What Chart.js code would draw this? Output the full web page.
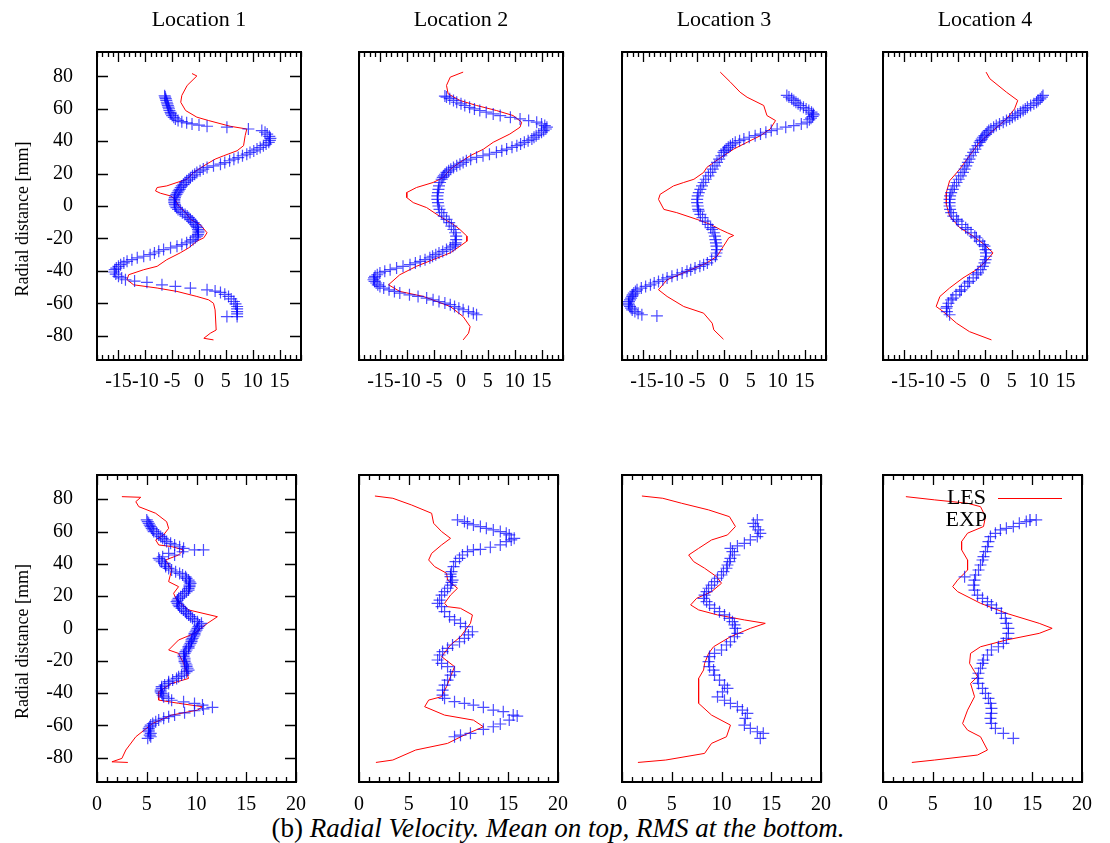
<!DOCTYPE html>
<html>
<head>
<meta charset="utf-8">
<script src="https://cdn.jsdelivr.net/npm/chart.js@4.4.1/dist/chart.umd.min.js"></script>
<style>
  body { margin: 0; background: #fff; width: 1110px; height: 843px; position: relative; overflow: hidden; }
  canvas { position: absolute; }
  #caption { position: absolute; left: 3px; width: 1110px; top: 813px; text-align: center; line-height: 30px;
             font: 27px "Liberation Serif", "Times New Roman", serif; color: #000; }
</style>
</head>
<body>
<div id="caption">(b) <i>Radial Velocity. Mean on top, RMS at the bottom.</i></div>
<script>
// --- data (r = radial distance [mm], v = velocity) ---
const locations = ['Location 1', 'Location 2', 'Location 3', 'Location 4'];
const radiusTicks = [-80, -60, -40, -20, 0, 20, 40, 60, 80];
const meanTicks = [-15, -10, -5, 0, 5, 10, 15];
const rmsTicks = [0, 5, 10, 15, 20];

// mean, location 1
const lesMean1R = [81.7, 80.2, 74.4, 68.2, 64.0, 58.9, 54.8, 52.7, 49.2, 47.5, 43.4, 37.2, 34.1, 31.0, 28.9, 24.8, 20.7, 16.5, 14.5, 12.4, 11.4, 9.3, 7.9, 6.2, 4.1, 0, -4.1, -8.3, -11.4, -16.5, -19.6, -21.7, -25.8, -28.9, -33.1, -37.2, -39.3, -42.4, -45.5, -48.6, -50.6, -52.7, -55.8, -57.9, -60.0, -64.1, -76.5, -78.5, -81.6, -82.6];
const lesMean1V = [-1.3, -0.4, -2.2, -3.2, -3.4, -2.5, -0.4, 1.8, 5.8, 8.9, 8.6, 8.3, 7.1, 4.6, 3.0, 0.9, -1.0, -2.2, -4.1, -6.0, -7.8, -8.1, -7.2, -5.3, -4.4, -3.8, -2.5, -1.6, 0.2, 1.5, 0.9, -0.4, -1.9, -3.5, -6.0, -7.8, -10.3, -13.1, -13.4, -12.2, -7.8, -4.1, -0.4, 1.8, 2.7, 3.0, 3.2, 2.1, 0.9, 2.7];
const expMean1R = [68.0, 67.2, 66.2, 65.1, 64.0, 63.0, 62.0, 61.0, 60.0, 58.9, 57.8, 56.8, 55.8, 54.7, 53.7, 52.8, 52.0, 51.3, 50.6, 49.9, 49.2, 48.6, 47.5, 46.5, 45.5, 44.4, 43.0, 41.7, 40.5, 39.3, 38.2, 37.2, 36.1, 35.1, 34.0, 33.0, 32.0, 31.0, 29.9, 28.9, 27.9, 26.8, 25.8, 24.8, 23.8, 22.8, 21.7, 20.7, 19.6, 18.6, 17.5, 16.5, 15.5, 14.5, 13.4, 12.4, 11.4, 10.3, 9.3, 8.3, 7.2, 6.2, 5.2, 4.1, 3.1, 2.1, 1.0, 0, -1.0, -2.1, -3.1, -4.1, -5.2, -6.2, -7.2, -8.3, -9.3, -10.3, -11.4, -12.4, -13.4, -14.5, -15.5, -16.5, -17.6, -18.6, -19.6, -20.7, -21.7, -22.7, -23.8, -24.8, -25.8, -26.9, -27.9, -29.0, -30.0, -31.0, -32.0, -33.1, -34.1, -35.1, -36.2, -37.2, -38.3, -39.3, -40.7, -42.0, -43.4, -44.4, -45.5, -46.3, -47.1, -48.6, -49.6, -50.6, -51.7, -52.5, -53.3, -54.5, -55.8, -57.3, -58.9, -60.4, -62.0, -63.5, -65.1, -66.6, -68.2, -68.2];
const expMean1V = [-6.4, -6.3, -6.2, -6.1, -6.0, -5.9, -5.8, -5.7, -5.6, -5.5, -5.3, -5.2, -5.0, -4.7, -4.4, -3.9, -3.2, -2.3, -1.3, 0.0, 1.5, 5.2, 9.2, 11.7, 12.3, 12.7, 13.1, 13.3, 13.2, 13.0, 12.5, 12.0, 11.4, 10.8, 10.2, 9.5, 8.9, 8.1, 7.3, 6.5, 5.7, 4.8, 4.0, 2.7, 1.5, 0.8, 0.2, -0.4, -0.8, -1.2, -1.6, -1.9, -2.3, -2.6, -2.9, -3.2, -3.4, -3.6, -3.8, -4.0, -4.2, -4.4, -4.5, -4.6, -4.6, -4.6, -4.5, -4.4, -4.2, -3.9, -3.5, -3.1, -2.6, -2.2, -1.9, -1.6, -1.3, -1.0, -0.7, -0.5, -0.3, -0.2, -0.1, -0.1, -0.2, -0.4, -0.7, -1.1, -1.6, -2.3, -3.2, -4.1, -5.3, -6.6, -7.5, -8.3, -9.1, -10.3, -11.5, -12.5, -13.4, -14.0, -14.6, -15.0, -15.4, -15.7, -15.8, -15.5, -15.0, -14.4, -13.7, -12.0, -9.7, -6.9, -4.4, -1.6, 1.5, 3.0, 4.0, 4.8, 5.5, 6.0, 6.5, 6.8, 7.1, 7.1, 7.1, 7.1, 7.1, 5.2];

// mean, location 2
const lesMean2R = [82.6, 79.5, 74.4, 69.2, 65.1, 62.0, 58.9, 55.8, 51.7, 48.6, 44.4, 39.3, 35.1, 31.0, 26.9, 22.7, 17.6, 14.5, 11.4, 8.3, 5.2, 2.1, -1.0, -5.2, -8.3, -11.4, -14.5, -18.6, -21.7, -24.8, -28.9, -33.1, -37.2, -42.4, -48.6, -52.7, -55.8, -62.0, -68.2, -74.4, -78.5, -82.6];
const lesMean2V = [0.4, -2.0, -2.7, -2.4, -0.2, 2.9, 6.6, 9.7, 11.3, 11.0, 9.1, 6.0, 4.2, 1.7, -0.2, -2.0, -3.3, -5.2, -8.3, -10.1, -10.1, -8.9, -6.4, -4.5, -3.0, -1.4, -0.2, 1.1, 1.1, -0.2, -2.0, -5.2, -8.3, -11.4, -13.5, -11.4, -7.0, -2.0, 0.4, 1.7, 1.4, 0.4];
const expMean2R = [67.8, 67.2, 66.2, 65.1, 64.0, 63.0, 62.0, 60.9, 59.9, 58.9, 57.9, 56.8, 55.8, 54.7, 53.7, 52.7, 51.7, 50.6, 49.6, 48.6, 47.5, 46.5, 45.5, 44.4, 43.4, 42.4, 41.3, 40.3, 39.3, 38.2, 37.2, 36.2, 35.1, 34.1, 33.1, 32.0, 31.0, 30.0, 28.9, 27.9, 26.9, 25.8, 24.8, 23.8, 22.7, 21.7, 20.7, 19.6, 18.6, 17.6, 16.5, 14.5, 12.4, 10.3, 8.3, 6.2, 4.1, 2.1, 0, -2.1, -4.1, -6.2, -8.3, -10.3, -12.4, -14.5, -16.5, -18.6, -20.7, -22.7, -23.8, -24.8, -25.8, -26.9, -28.0, -29.0, -30.0, -31.0, -32.0, -33.1, -34.1, -35.1, -36.2, -37.2, -38.3, -39.3, -40.3, -41.3, -42.4, -43.4, -44.4, -45.5, -46.5, -47.5, -48.6, -49.6, -50.6, -51.7, -52.7, -53.7, -54.8, -55.8, -56.8, -57.9, -58.9, -59.9, -60.9, -62.0, -63.0, -64.0, -65.1, -66.1, -67.1];
const expMean2V = [-3.0, -2.7, -2.1, -1.4, -0.8, 0.0, 0.7, 1.6, 2.5, 3.5, 4.7, 6.0, 7.3, 9.2, 11.0, 12.6, 14.1, 15.0, 15.6, 16.0, 15.8, 15.4, 15.0, 14.5, 14.0, 13.6, 13.2, 12.5, 11.8, 11.1, 10.4, 9.5, 8.5, 7.6, 6.6, 5.3, 4.1, 2.9, 1.8, 1.0, 0.4, -0.2, -0.8, -1.4, -1.9, -2.3, -2.7, -3.0, -3.2, -3.4, -3.6, -3.9, -4.1, -4.2, -4.3, -4.4, -4.4, -4.3, -4.2, -4.0, -3.6, -3.2, -2.7, -2.2, -1.8, -1.4, -1.1, -0.9, -0.9, -1.0, -1.1, -1.5, -2.0, -2.7, -3.4, -4.1, -4.7, -5.3, -5.8, -6.7, -7.6, -8.5, -9.5, -10.8, -12.0, -13.2, -14.2, -15.1, -15.6, -16.0, -16.2, -16.3, -16.1, -15.8, -15.5, -15.1, -14.4, -13.4, -12.4, -11.4, -9.6, -8.0, -6.4, -5.2, -4.1, -3.0, -2.0, -1.2, -0.4, 0.4, 1.4, 2.3, 2.9];

// mean, location 3
const lesMean3R = [82.6, 76.4, 70.2, 67.1, 62.0, 55.8, 52.7, 47.5, 43.4, 39.3, 35.1, 31.0, 26.9, 23.8, 20.7, 16.5, 14.5, 12.4, 7.2, 4.1, -2.1, -4.1, -8.3, -11.4, -14.5, -16.5, -18.2, -19.6, -24.8, -31.0, -35.1, -40.3, -45.5, -51.7, -55.8, -62.0, -66.1, -72.3, -76.4, -82.2];
const lesMean3V = [-0.7, 1.2, 3.0, 4.3, 7.4, 8.0, 9.6, 8.6, 6.8, 4.3, 1.8, -0.1, -1.9, -3.2, -3.8, -5.6, -7.5, -9.4, -11.9, -12.2, -11.2, -8.8, -5.0, -2.5, -0.7, 0.6, 1.8, 0.9, -0.1, -1.3, -3.2, -6.9, -10.6, -12.2, -10.6, -7.5, -3.8, -2.2, -1.9, -0.1];
const expMean3R = [68.2, 67.2, 66.1, 65.1, 64.0, 63.0, 62.0, 60.9, 59.9, 58.9, 57.9, 56.9, 56.2, 55.2, 54.2, 53.2, 51.7, 50.6, 49.6, 48.6, 47.5, 46.5, 45.5, 44.4, 43.4, 42.4, 41.3, 40.3, 39.3, 38.3, 37.2, 36.2, 35.1, 34.1, 33.1, 31.0, 28.9, 26.9, 24.8, 22.7, 20.7, 18.6, 16.5, 14.5, 12.4, 10.3, 8.3, 6.2, 4.1, 2.1, 0, -2.1, -3.1, -5.2, -7.2, -9.3, -11.4, -13.4, -14.5, -16.5, -18.6, -20.7, -22.7, -24.8, -26.9, -29.0, -31.0, -33.1, -35.1, -36.2, -37.2, -38.3, -39.3, -40.3, -41.3, -42.4, -43.4, -44.4, -45.5, -46.5, -47.5, -48.6, -49.6, -50.6, -51.7, -52.7, -53.7, -54.8, -55.8, -56.8, -57.9, -59.0, -60.0, -61.0, -62.0, -63.0, -64.1, -65.1, -66.1, -67.1, -67.8];
const expMean3V = [11.7, 12.1, 12.6, 13.0, 13.4, 13.8, 14.2, 14.8, 15.3, 15.8, 16.3, 16.6, 16.7, 16.5, 16.2, 15.9, 15.5, 14.4, 13.0, 11.5, 9.9, 8.8, 7.8, 6.8, 5.8, 4.7, 3.7, 2.9, 2.1, 1.6, 1.2, 0.8, 0.4, 0.1, -0.1, -0.5, -0.9, -1.3, -1.7, -2.1, -2.5, -2.9, -3.4, -3.8, -4.1, -4.4, -4.7, -4.9, -5.0, -5.0, -4.9, -4.8, -4.7, -4.4, -4.0, -3.5, -3.0, -2.5, -2.2, -1.9, -1.7, -1.6, -1.5, -1.4, -1.3, -1.4, -1.6, -2.3, -3.1, -3.8, -4.5, -5.4, -6.2, -6.9, -7.8, -8.7, -9.7, -10.6, -11.4, -12.2, -13.0, -13.7, -14.6, -15.4, -16.2, -16.5, -16.8, -17.0, -17.1, -17.3, -17.5, -17.7, -17.8, -17.7, -17.5, -17.3, -17.1, -16.6, -16.0, -15.3, -12.5];

// mean, location 4
const lesMean4R = [82.6, 78.5, 70.2, 65.1, 59.9, 53.7, 46.5, 39.3, 31.0, 22.7, 15.5, 8.3, 1.0, -6.2, -13.4, -18.6, -23.8, -28.9, -34.1, -39.3, -44.4, -50.6, -55.8, -62.0, -65.1, -72.3, -77.5, -82.6];
const lesMean4V = [0.2, 0.9, 4.0, 6.1, 5.5, 4.0, 1.5, -1.0, -2.9, -4.7, -6.6, -7.2, -7.2, -6.6, -4.7, -2.2, -0.1, 1.5, 0.2, -1.6, -4.1, -6.6, -8.4, -9.1, -7.8, -5.3, -2.9, 1.2];
const expMean4R = [68.2, 67.2, 66.1, 65.1, 64.0, 63.0, 62.0, 60.9, 59.9, 58.9, 57.9, 56.8, 55.8, 54.7, 53.7, 52.7, 51.7, 50.6, 49.6, 48.6, 47.5, 46.5, 45.5, 44.4, 43.4, 42.4, 41.3, 40.3, 39.3, 37.2, 35.1, 33.1, 31.0, 28.9, 26.9, 24.8, 22.7, 20.7, 18.6, 16.5, 14.5, 12.4, 10.3, 8.3, 6.2, 4.1, 2.1, 0, -2.1, -4.1, -6.2, -8.3, -9.3, -11.4, -13.4, -14.5, -16.5, -18.6, -19.6, -21.7, -23.8, -24.8, -26.9, -28.9, -31.0, -33.1, -35.1, -37.2, -39.3, -41.3, -42.4, -44.4, -46.5, -47.5, -49.6, -51.7, -52.7, -54.8, -56.8, -57.9, -60.0, -62.0, -63.0, -65.1, -67.1];
const expMean4V = [10.8, 10.6, 10.3, 9.9, 9.6, 9.1, 8.5, 7.9, 7.5, 7.1, 6.6, 6.1, 5.6, 5.1, 4.6, 4.0, 3.4, 2.7, 2.1, 1.6, 1.1, 0.7, 0.4, 0.2, -0.1, -0.4, -0.6, -0.8, -1.0, -1.4, -1.8, -2.2, -2.6, -2.9, -3.2, -3.5, -3.8, -4.1, -4.5, -4.9, -5.3, -5.7, -6.0, -6.3, -6.5, -6.6, -6.6, -6.6, -6.5, -6.3, -5.9, -5.3, -5.0, -4.3, -3.6, -3.2, -2.6, -1.9, -1.6, -1.0, -0.4, -0.1, 0.1, 0.2, 0.2, 0.1, -0.1, -0.4, -0.8, -1.3, -1.6, -2.2, -2.9, -3.2, -3.8, -4.4, -4.7, -5.4, -6.0, -6.3, -6.8, -7.1, -7.2, -7.1, -6.6];

// rms, location 1
const lesRms1R = [81.6, 81.2, 78.5, 75.4, 71.3, 66.1, 62.0, 58.0, 54.8, 51.7, 50.7, 48.6, 45.5, 42.4, 36.2, 29.0, 25.9, 21.8, 17.6, 11.5, 7.3, 3.2, -3.0, -7.1, -13.3, -15.4, -21.6, -30.9, -34.0, -39.1, -44.3, -46.3, -48.4, -50.5, -53.6, -58.7, -67.0, -75.2, -80.4, -82.5, -82.9];
const lesRms1V = [2.5, 4.4, 3.9, 4.2, 5.9, 7.0, 7.2, 6.7, 5.9, 6.2, 7.5, 8.7, 8.2, 6.9, 7.5, 7.2, 8.2, 7.7, 8.0, 9.2, 12.1, 11.1, 9.8, 8.2, 7.2, 8.2, 8.7, 9.2, 7.5, 6.2, 6.2, 8.2, 10.6, 10.1, 7.5, 5.6, 3.9, 2.9, 2.5, 1.5, 3.1];
const expRms1R = [67.2, 66.1, 65.1, 64.0, 63.1, 62.0, 61.0, 60.0, 58.9, 57.9, 56.9, 55.8, 54.8, 53.8, 52.7, 51.7, 50.6, 49.6, 48.6, 48.6, 47.5, 46.5, 45.5, 44.4, 43.4, 42.4, 41.3, 40.3, 39.3, 38.3, 37.2, 36.2, 35.1, 34.1, 33.1, 32.0, 31.0, 30.0, 28.9, 27.9, 26.9, 25.9, 24.8, 23.8, 22.8, 21.8, 20.7, 19.6, 18.6, 17.6, 16.6, 15.5, 14.5, 13.5, 12.5, 11.4, 10.4, 9.4, 8.4, 7.3, 6.3, 5.3, 4.2, 3.2, 2.1, 1.1, 0.1, -1.0, -2.0, -3.0, -4.0, -5.1, -6.1, -7.1, -8.1, -9.2, -10.2, -11.2, -12.2, -13.3, -14.3, -15.4, -16.4, -17.4, -18.4, -19.5, -20.5, -21.5, -22.6, -23.6, -24.6, -25.7, -26.7, -27.7, -28.8, -29.8, -30.9, -31.9, -32.9, -34.0, -35.0, -36.0, -37.1, -38.1, -39.2, -40.2, -41.2, -42.3, -43.2, -44.4, -45.4, -46.4, -47.4, -48.8, -49.8, -50.9, -52.2, -53.6, -54.6, -55.6, -56.7, -57.7, -58.8, -59.8, -60.8, -61.8, -62.9, -63.9, -64.9, -66.0, -67.0, -68.0];
const expRms1V = [5.0, 5.1, 5.2, 5.3, 5.4, 5.5, 5.6, 5.7, 6.0, 6.2, 6.4, 6.6, 6.8, 7.0, 7.4, 7.8, 8.3, 8.7, 9.8, 10.7, 8.6, 7.2, 7.8, 6.6, 6.2, 6.3, 6.5, 6.8, 6.9, 6.9, 7.2, 7.5, 7.9, 8.3, 8.6, 8.9, 9.0, 9.2, 9.3, 9.4, 9.3, 9.3, 9.2, 9.2, 9.0, 8.8, 8.6, 8.4, 8.2, 8.1, 8.0, 8.1, 8.2, 8.3, 8.5, 8.7, 8.9, 9.0, 9.2, 9.4, 9.6, 9.8, 10.1, 10.5, 10.3, 10.2, 10.1, 10.0, 9.9, 9.8, 9.8, 9.7, 9.6, 9.5, 9.5, 9.4, 9.3, 9.2, 9.2, 9.0, 8.9, 8.8, 8.7, 8.7, 8.8, 8.8, 8.8, 8.9, 9.0, 9.0, 9.1, 9.2, 9.0, 8.8, 8.5, 8.2, 8.0, 7.6, 7.2, 7.2, 6.8, 6.5, 6.5, 6.4, 6.4, 6.5, 6.6, 6.7, 7.2, 7.5, 8.7, 9.8, 10.6, 11.6, 10.7, 9.8, 8.8, 7.8, 7.2, 6.7, 6.2, 5.9, 5.6, 5.4, 5.3, 5.2, 5.2, 5.2, 5.4, 5.3, 5.4, 5.1];

// rms, location 2
const lesRms2R = [82.0, 80.6, 76.4, 71.3, 65.1, 60.0, 55.8, 51.7, 46.5, 42.4, 38.3, 34.2, 30.0, 24.9, 20.7, 15.6, 13.5, 12.5, 8.4, 3.2, -5.1, -10.2, -17.4, -23.6, -29.8, -36.0, -42.2, -44.3, -48.4, -53.6, -56.7, -60.8, -65.9, -71.1, -75.2, -81.4, -82.9];
const lesRms2V = [1.6, 3.4, 5.3, 7.3, 7.5, 8.3, 9.2, 8.3, 7.3, 7.0, 7.6, 8.8, 8.9, 9.9, 9.2, 8.6, 8.9, 10.2, 11.4, 11.2, 10.2, 9.2, 8.3, 9.6, 9.2, 8.8, 8.3, 7.0, 6.6, 8.6, 11.5, 12.5, 10.6, 8.9, 5.7, 3.4, 1.7];
const expRms2R = [67.2, 66.2, 65.1, 64.1, 63.1, 62.0, 61.0, 60.0, 58.9, 57.9, 55.8, 54.8, 53.8, 51.7, 50.3, 49.0, 48.6, 47.6, 45.5, 43.4, 41.4, 38.3, 35.2, 33.6, 32.1, 30.0, 28.5, 26.9, 24.9, 22.8, 20.7, 17.6, 15.6, 13.5, 10.4, 7.3, 5.3, 3.2, 1.1, -2.0, -4.0, -6.1, -8.2, -10.2, -12.3, -14.3, -16.4, -19.5, -21.6, -23.6, -26.7, -28.8, -31.9, -35.0, -38.1, -41.2, -43.2, -45.3, -46.3, -47.4, -48.8, -50.5, -51.5, -53.6, -54.2, -56.7, -59.1, -60.8, -62.4, -64.9, -66.0, -67.0];
const expRms2V = [9.9, 10.6, 10.9, 11.5, 12.2, 12.8, 13.5, 14.2, 14.8, 15.1, 15.6, 15.3, 14.8, 14.2, 13.2, 12.2, 11.5, 10.9, 10.4, 10.1, 9.7, 9.5, 9.3, 9.2, 9.2, 9.4, 9.3, 9.2, 8.9, 8.6, 8.3, 8.1, 7.9, 8.3, 8.6, 9.1, 9.6, 10.2, 10.7, 11.4, 11.0, 10.6, 10.1, 9.4, 8.9, 8.4, 8.1, 7.9, 8.3, 8.9, 9.6, 9.2, 8.9, 8.6, 8.4, 8.4, 8.6, 9.6, 10.6, 11.5, 12.5, 13.5, 14.5, 15.5, 15.9, 15.1, 14.2, 13.5, 12.5, 11.2, 10.2, 9.6];

// rms, location 3
const lesRms3R = [82.0, 80.6, 77.5, 73.4, 69.2, 63.1, 57.9, 54.8, 49.6, 45.5, 41.4, 37.3, 32.1, 28.0, 22.8, 18.7, 14.6, 11.5, 8.4, 5.3, 3.2, 0.1, -5.1, -11.3, -15.4, -21.6, -25.7, -30.9, -38.1, -46.3, -53.6, -59.8, -67.0, -71.1, -77.3, -81.4, -82.9];
const lesRms3V = [2.0, 4.1, 6.0, 8.7, 10.8, 11.4, 10.6, 9.0, 7.7, 6.7, 7.2, 8.3, 9.5, 10.0, 9.0, 7.5, 6.9, 7.7, 9.6, 12.3, 14.4, 12.9, 10.9, 9.2, 8.7, 8.3, 8.2, 7.7, 7.7, 7.7, 9.0, 10.9, 10.5, 9.0, 8.3, 4.4, 1.6];
const expRms3R = [67.2, 65.1, 63.1, 61.0, 58.9, 56.9, 54.8, 52.7, 51.1, 49.6, 47.6, 45.5, 43.4, 41.4, 39.3, 37.3, 35.2, 33.1, 31.1, 29.0, 26.9, 24.9, 22.8, 20.7, 18.7, 16.6, 14.6, 12.5, 10.4, 8.4, 6.3, 4.2, 2.2, 0.1, -3.0, -5.1, -8.2, -10.2, -13.3, -15.4, -17.4, -20.5, -23.6, -25.7, -28.8, -31.9, -35.0, -37.1, -39.2, -42.3, -44.4, -46.3, -48.4, -50.5, -52.5, -55.6, -59.8, -61.8, -63.9, -64.9, -68.0];
const expRms3V = [13.6, 13.2, 13.4, 13.7, 13.9, 13.6, 12.9, 12.3, 11.6, 10.9, 11.1, 11.3, 10.9, 10.8, 10.6, 10.5, 10.2, 10.0, 9.6, 9.3, 9.0, 8.7, 8.5, 8.3, 8.2, 8.5, 8.8, 9.3, 9.8, 10.3, 10.8, 11.1, 11.3, 11.4, 11.6, 11.3, 10.9, 10.5, 10.0, 9.3, 8.8, 8.7, 8.8, 9.2, 9.3, 9.8, 10.3, 10.6, 10.1, 9.6, 10.3, 10.9, 11.6, 12.1, 12.6, 12.4, 12.3, 12.9, 13.6, 14.2, 13.9];

// rms, location 4
const lesRms4R = [81.6, 79.6, 77.5, 75.4, 69.2, 63.1, 59.0, 53.8, 48.7, 42.4, 36.2, 30.0, 25.9, 22.8, 15.6, 9.4, 3.2, 0.1, -3.0, -7.1, -11.3, -15.4, -21.6, -26.7, -29.8, -34.0, -42.2, -50.5, -58.8, -62.9, -67.0, -75.2, -78.3, -81.4, -82.9];
const lesRms4V = [2.3, 5.2, 8.5, 9.8, 10.3, 10.1, 8.5, 7.9, 7.9, 8.5, 8.5, 7.5, 7.0, 7.5, 9.8, 12.4, 15.7, 17.0, 15.7, 12.4, 9.8, 8.8, 8.7, 9.2, 9.5, 8.8, 9.2, 8.5, 8.0, 8.5, 9.8, 10.5, 9.5, 5.2, 2.9];
const expRms4R = [67.2, 66.2, 65.1, 63.1, 62.0, 61.0, 58.9, 56.9, 53.8, 50.7, 47.6, 44.5, 42.4, 39.3, 36.2, 33.1, 32.0, 30.0, 26.9, 23.8, 20.7, 18.7, 16.6, 14.6, 12.5, 9.4, 6.3, 3.2, 0.1, -3.0, -6.1, -9.2, -11.3, -13.3, -16.4, -19.5, -21.6, -24.6, -27.7, -30.9, -34.0, -37.1, -40.2, -43.2, -46.3, -49.4, -52.5, -55.6, -58.7, -61.8, -64.9, -68.0];
const expRms4V = [15.4, 14.4, 13.7, 13.1, 12.4, 11.8, 11.3, 10.8, 10.6, 10.5, 10.3, 10.1, 10.0, 9.8, 9.6, 9.3, 8.2, 9.2, 9.1, 9.2, 9.5, 10.0, 10.5, 10.9, 11.4, 11.9, 12.3, 12.4, 12.6, 12.6, 12.4, 12.1, 11.6, 10.9, 10.5, 10.1, 10.0, 9.8, 9.6, 9.5, 9.6, 10.0, 10.3, 10.6, 10.8, 10.9, 10.9, 10.8, 10.9, 11.3, 12.1, 13.1];

// --- layout ---
const colLeft = [97, 359, 622, 883];
const rowTop = [52, 475];
const plotW = 204, plotH = [308, 307];
const ML = 96, MT = 50, MR = 16, MB = 45;
const serif = '"Liberation Serif", "Times New Roman", serif';

const panels = [
  [lesMean1R, lesMean1V, expMean1R, expMean1V], [lesMean2R, lesMean2V, expMean2R, expMean2V],
  [lesMean3R, lesMean3V, expMean3R, expMean3V], [lesMean4R, lesMean4V, expMean4R, expMean4V],
  [lesRms1R, lesRms1V, expRms1R, expRms1V], [lesRms2R, lesRms2V, expRms2R, expRms2V],
  [lesRms3R, lesRms3V, expRms3R, expRms3V], [lesRms4R, lesRms4V, expRms4R, expRms4V]
];

const toXY = (r, v) => r.map((ri, i) => ({ x: v[i], y: ri }));

// gnuplot-like frame with inward ticks, y label and key
const frame = {
  id: 'frame',
  afterDatasetsDraw(chart, args, o) {
    const { ctx, chartArea: a, scales: { x, y } } = chart;
    ctx.save();
    ctx.strokeStyle = '#000';
    ctx.lineWidth = 1.3;
    ctx.beginPath();
    const tickX = (v, len) => {
      const p = Math.round(x.getPixelForValue(v)) + 0.5;
      ctx.moveTo(p, a.bottom); ctx.lineTo(p, a.bottom - len);
      ctx.moveTo(p, a.top); ctx.lineTo(p, a.top + len);
    };
    for (let v = Math.ceil(x.min); v <= x.max; v++) if (!o.majorX.includes(v)) tickX(v, 5);
    o.majorX.forEach(v => tickX(v, 10));
    if (o.yTicks) {
      o.yTicks.forEach(v => {
        const p = Math.round(y.getPixelForValue(v)) + 0.5;
        ctx.moveTo(a.left, p); ctx.lineTo(a.left + 11, p);
        ctx.moveTo(a.right, p); ctx.lineTo(a.right - 11, p);
      });
    }
    ctx.stroke();
    ctx.lineWidth = 2;
    ctx.strokeRect(a.left, a.top, a.right - a.left, a.bottom - a.top);

    ctx.fillStyle = '#000';
    if (o.yTitle) {
      ctx.save();
      ctx.translate(a.left - 74, (a.top + a.bottom) / 2 + 13);
      ctx.rotate(-Math.PI / 2);
      ctx.font = '18px ' + serif;
      ctx.textAlign = 'center';
      ctx.textBaseline = 'middle';
      ctx.fillText(o.yTitle, 0, 0);
      ctx.restore();
    }
    if (o.key) {
      ctx.font = '22px ' + serif;
      ctx.textAlign = 'right';
      ctx.textBaseline = 'middle';
      ctx.fillText('LES', a.left + 103, a.top + 23);
      ctx.fillText('EXP', a.left + 104, a.top + 45);
      ctx.beginPath();
      ctx.strokeStyle = '#ff0000';
      ctx.lineWidth = 1;
      ctx.moveTo(a.left + 115, a.top + 23.5); ctx.lineTo(a.left + 179, a.top + 23.5);
      ctx.stroke();
      ctx.beginPath();
      ctx.strokeStyle = 'rgba(0,0,255,0.85)';
      ctx.lineWidth = 1.2;
      const cx = a.left + 147, cy = a.top + 45;
      ctx.moveTo(cx - 6, cy); ctx.lineTo(cx + 6, cy);
      ctx.moveTo(cx, cy - 6); ctx.lineTo(cx, cy + 6);
      ctx.stroke();
    }
    ctx.restore();
  }
};

panels.forEach((p, i) => {
  const row = i < 4 ? 0 : 1, col = i % 4;
  const cv = document.createElement('canvas');
  const w = ML + plotW + MR, h = MT + plotH[row] + MB;
  cv.width = w; cv.height = h;
  cv.style.left = (colLeft[col] - ML) + 'px';
  cv.style.top = (rowTop[row] - MT) + 'px';
  document.body.appendChild(cv);

  const xTicks = row === 0 ? meanTicks : rmsTicks;
  new Chart(cv, {
    type: 'scatter',
    data: {
      datasets: [
        { label: 'EXP', data: toXY(p[2], p[3]), showLine: false, order: 0,
          pointStyle: 'cross', pointRadius: 6, pointBorderWidth: 1.2,
          pointBorderColor: 'rgba(0,0,255,0.7)', pointBackgroundColor: 'rgba(0,0,255,0.7)' },
        { label: 'LES', data: toXY(p[0], p[1]), showLine: true, order: 1,
          borderColor: '#ff0000', borderWidth: 1, pointRadius: 0, tension: 0 }
      ]
    },
    options: {
      responsive: false,
      animation: false,
      events: [],
      layout: { padding: { left: 0, right: MR, top: row === 0 ? 0 : MT, bottom: 0 } },
      scales: {
        x: {
          type: 'linear',
          min: row === 0 ? -19 : 0,
          max: row === 0 ? 19 : 20,
          afterBuildTicks: s => { s.ticks = xTicks.map(v => ({ value: v })); },
          afterFit: s => { s.height = MB; },
          grid: { display: false, drawTicks: false },
          border: { display: false },
          ticks: { autoSkip: false, maxRotation: 0, padding: row === 0 ? 10 : 11,
                   color: '#000', font: { family: serif, size: 20 } }
        },
        y: {
          type: 'linear',
          min: -95, max: 95,
          afterBuildTicks: s => { s.ticks = radiusTicks.map(v => ({ value: v })); },
          afterFit: s => { s.width = ML; },
          grid: { display: false, drawTicks: false },
          border: { display: false },
          ticks: { display: col === 0, padding: 24, color: '#000', font: { family: serif, size: 20 } }
        }
      },
      plugins: {
        legend: { display: false },
        tooltip: { enabled: false },
        title: {
          display: row === 0, text: locations[col], fullSize: false, color: '#000',
          font: { family: serif, size: 22, weight: 'normal', lineHeight: 1.2 },
          padding: { top: 5, bottom: 18.6 }
        },
        frame: {
          majorX: xTicks,
          yTicks: col === 0 ? radiusTicks : null,
          yTitle: col === 0 ? 'Radial distance [mm]' : null,
          key: i === 7
        }
      }
    },
    plugins: [frame]
  });
});
</script>
</body>
</html>
